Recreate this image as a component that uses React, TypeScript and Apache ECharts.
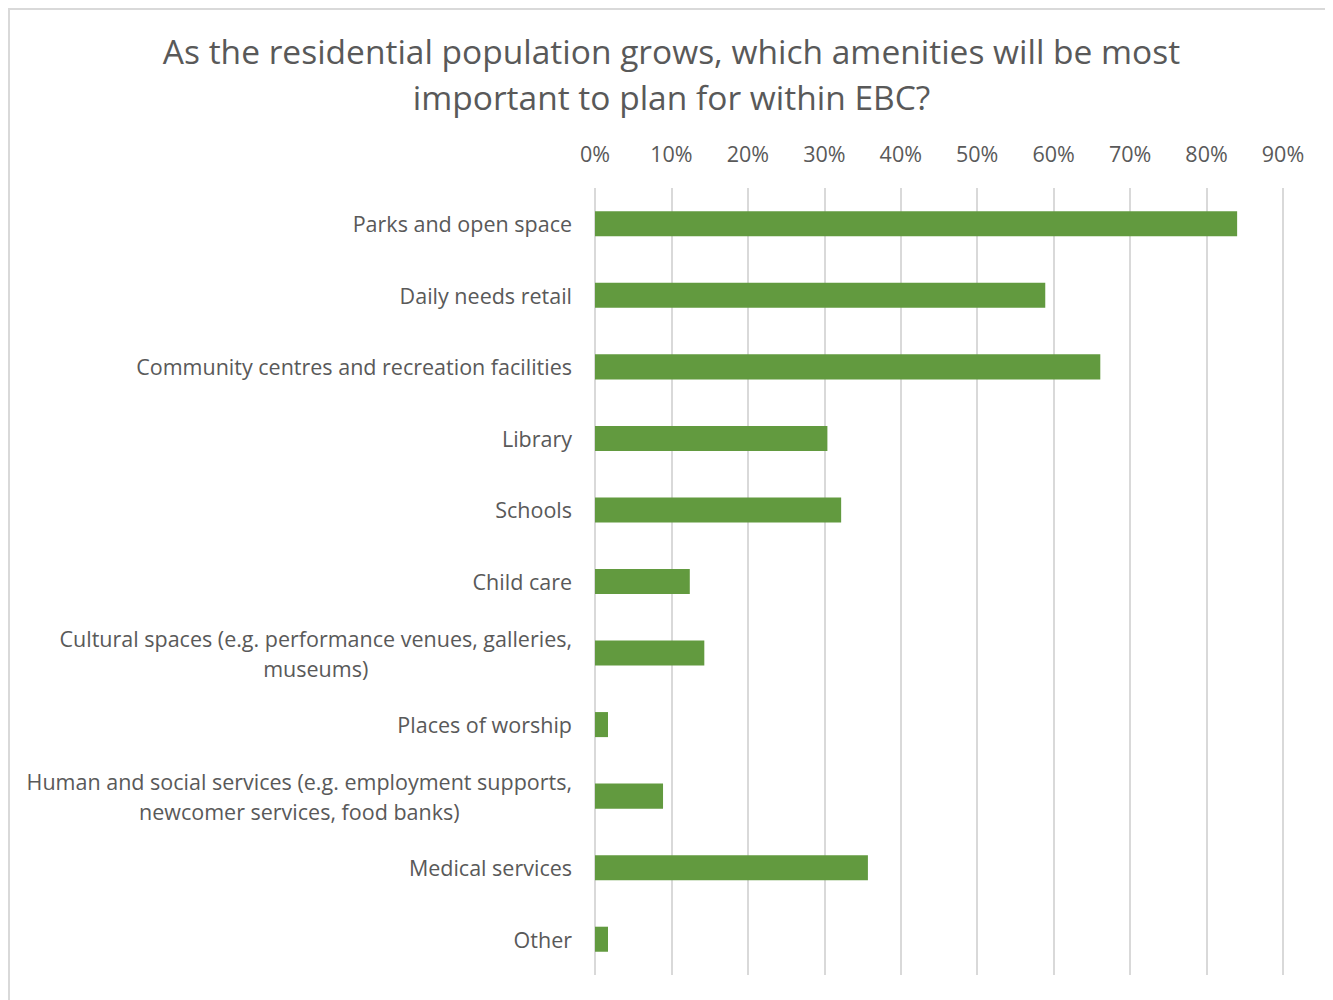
import React, { useEffect, useRef } from "react";
import * as echarts from "echarts";

const TITLE = "As the residential population grows, which amenities will be most\nimportant to plan for within EBC?";

const categories = [
  "Parks and open space",
  "Daily needs retail",
  "Community centres and recreation facilities",
  "Library",
  "Schools",
  "Child care",
  "Cultural spaces (e.g. performance venues, galleries, museums)",
  "Places of worship",
  "Human and social services (e.g. employment supports, newcomer services, food banks)",
  "Medical services",
  "Other",
];

const categoryLines = [
  ["Parks and open space"],
  ["Daily needs retail"],
  ["Community centres and recreation facilities"],
  ["Library"],
  ["Schools"],
  ["Child care"],
  ["Cultural spaces (e.g. performance venues, galleries,", "museums)"],
  ["Places of worship"],
  ["Human and social services (e.g. employment supports,", "newcomer services, food banks)"],
  ["Medical services"],
  ["Other"],
];

const values = [0.84, 0.589, 0.661, 0.304, 0.322, 0.124, 0.143, 0.017, 0.089, 0.357, 0.017];

const axisMin = 0;
const axisMax = 0.9;
const axisInterval = 0.1;

const FONT = "Open Sans";
const TEXT_COLOR = "#595959";
const BAR_COLOR = "#629A3F";
const GRID_COLOR = "#D9D9D9";
const LABEL_SIZE = 21.5;

export default function App() {
  const ref = useRef<HTMLDivElement>(null);
  useEffect(() => {
    if (!ref.current) return;
    const chart = echarts.init(ref.current, null, { renderer: "svg" });
    chart.setOption({
      animation: false,
      backgroundColor: "#ffffff",
      title: {
        text: TITLE,
        left: "center",
        top: 13,
        textStyle: {
          fontFamily: FONT,
          fontSize: 33.5,
          fontWeight: "normal",
          color: TEXT_COLOR,
          lineHeight: 46,
        },
      },
      grid: { left: 585, right: 50, top: 178, bottom: 25, containLabel: false },
      xAxis: {
        type: "value",
        position: "top",
        min: axisMin,
        max: axisMax,
        interval: axisInterval,
        axisLine: { show: false },
        axisTick: { show: false },
        axisLabel: {
          formatter: (v: number) => `${Math.round(v * 100)}%`,
          fontFamily: FONT,
          fontSize: LABEL_SIZE,
          color: TEXT_COLOR,
          margin: 24,
        },
        splitLine: { show: true, lineStyle: { color: GRID_COLOR, width: 2 } },
      },
      yAxis: {
        type: "category",
        inverse: true,
        data: categories,
        axisLine: { show: false },
        axisTick: { show: false },
        axisLabel: {
          formatter: (_v: string, i: number) =>
            categoryLines[i].map((l) => `{c|${l}}`).join("\n"),
          fontFamily: FONT,
          fontSize: LABEL_SIZE,
          color: TEXT_COLOR,
          margin: 23,
          align: "right",
          lineHeight: 30,
          rich: {
            c: {
              align: "center",
              fontFamily: FONT,
              fontSize: LABEL_SIZE,
              color: TEXT_COLOR,
              lineHeight: 30,
            },
          },
        },
      },
      series: [
        {
          type: "bar",
          data: values,
          barWidth: "35%",
          itemStyle: { color: BAR_COLOR },
        },
      ],
    });
    return () => chart.dispose();
  }, []);
  return (
    <div
      style={{
        width: 1325,
        height: 992,
        boxSizing: "border-box",
        borderLeft: "2px solid #D9D9D9",
        borderTop: "2px solid #D9D9D9",
        overflow: "hidden",
      }}
    >
      <div ref={ref} style={{ width: 1323, height: 990 }} />
    </div>
  );
}
